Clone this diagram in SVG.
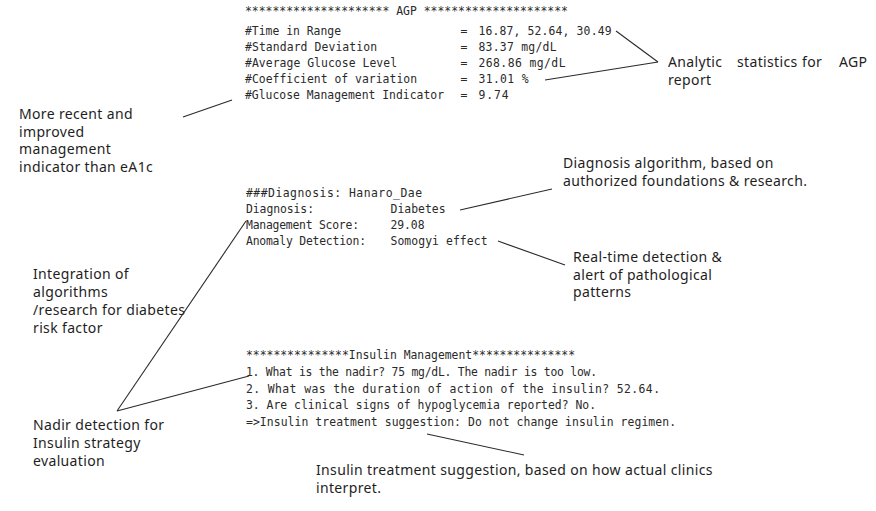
<svg xmlns="http://www.w3.org/2000/svg" width="876" height="511" viewBox="0 0 876 511">
<style>
.m{font-family:"DejaVu Sans Mono","Liberation Mono",monospace;font-size:11.4px;fill:#2a2a2a}
.s{font-family:"Noto Sans","Open Sans",sans-serif;font-size:14px;letter-spacing:0.35px;fill:#1e1e1e}
.c{stroke:#2a2a2a;stroke-width:1.1;fill:none}
</style>
<rect width="876" height="511" fill="#ffffff"/>
<g id="agp-report">
<text class="m" x="245" y="15" textLength="323" lengthAdjust="spacingAndGlyphs">********************* AGP *********************</text>
<text class="m" x="245" y="35" textLength="96">#Time in Range</text>
<text class="m" x="245" y="51" textLength="132">#Standard Deviation</text>
<text class="m" x="245" y="67" textLength="152">#Average Glucose Level</text>
<text class="m" x="245" y="83" textLength="172">#Coefficient of variation</text>
<text class="m" x="245" y="99" textLength="199">#Glucose Management Indicator</text>
<text class="m" x="464" y="35" text-anchor="middle">=</text>
<text class="m" x="464" y="51" text-anchor="middle">=</text>
<text class="m" x="464" y="67" text-anchor="middle">=</text>
<text class="m" x="464" y="83" text-anchor="middle">=</text>
<text class="m" x="464" y="99" text-anchor="middle">=</text>
<text class="m" x="478.5" y="35" textLength="133">16.87, 52.64, 30.49</text>
<text class="m" x="478.5" y="51" textLength="78">83.37 mg/dL</text>
<text class="m" x="478.5" y="67" textLength="87">268.86 mg/dL</text>
<text class="m" x="478.5" y="83" textLength="50">31.01 %</text>
<text class="m" x="478.5" y="99" textLength="30">9.74</text>
</g>
<g id="diagnosis">
<text class="m" x="246" y="197" textLength="176">###Diagnosis: Hanaro_Dae</text>
<text class="m" x="246" y="213" textLength="68">Diagnosis:</text>
<text class="m" x="246" y="229" textLength="113">Management Score:</text>
<text class="m" x="246" y="245" textLength="120">Anomaly Detection:</text>
<text class="m" x="390.5" y="213" textLength="55">Diabetes</text>
<text class="m" x="390.5" y="229" textLength="34">29.08</text>
<text class="m" x="390.5" y="245" textLength="97">Somogyi effect</text>
</g>
<g id="insulin-management">
<text class="m" x="246" y="359" textLength="329" lengthAdjust="spacingAndGlyphs">***************Insulin Management***************</text>
<text class="m" x="246" y="376" textLength="351">1. What is the nadir? 75 mg/dL. The nadir is too low.</text>
<text class="m" x="246" y="392.5" textLength="414">2. What was the duration of action of the insulin? 52.64.</text>
<text class="m" x="246" y="409" textLength="350">3. Are clinical signs of hypoglycemia reported? No.</text>
<text class="m" x="246" y="425.5" textLength="430">=&gt;Insulin treatment suggestion: Do not change insulin regimen.</text>
</g>
<g id="note-analytic">
<text class="s" y="67"><tspan x="668">Analytic</tspan><tspan x="737">statistics</tspan><tspan x="802">for</tspan><tspan x="839">AGP</tspan></text>
<text class="s" x="668" y="85">report</text>
</g>
<g id="note-gmi">
<text class="s" x="19" y="119">More recent and</text>
<text class="s" x="19" y="136.5">improved</text>
<text class="s" x="19" y="154">management</text>
<text class="s" x="19" y="171.5">indicator than eA1c</text>
</g>
<g id="note-diagnosis">
<text class="s" x="563" y="168">Diagnosis algorithm, based on</text>
<text class="s" x="563" y="186">authorized foundations &amp; research.</text>
</g>
<g id="note-realtime">
<text class="s" x="573" y="262">Real-time detection &amp;</text>
<text class="s" x="573" y="279.5">alert of pathological</text>
<text class="s" x="573" y="297">patterns</text>
</g>
<g id="note-integration">
<text class="s" x="33" y="279">Integration of</text>
<text class="s" x="33" y="297">algorithms</text>
<text class="s" x="33" y="315">/research for diabetes</text>
<text class="s" x="33" y="333">risk factor</text>
</g>
<g id="note-nadir">
<text class="s" x="33" y="430">Nadir detection for</text>
<text class="s" x="33" y="448">Insulin strategy</text>
<text class="s" x="33" y="466">evaluation</text>
</g>
<g id="note-insulin">
<text class="s" x="316" y="475">Insulin treatment suggestion, based on how actual clinics</text>
<text class="s" x="316" y="493">interpret.</text>
</g>
<g id="connectors">
<line class="c" x1="616" y1="31" x2="658" y2="62"/>
<line class="c" x1="545" y1="80" x2="658" y2="62"/>
<line class="c" x1="183" y1="117" x2="232" y2="100"/>
<line class="c" x1="460" y1="210" x2="552" y2="189"/>
<line class="c" x1="498" y1="241" x2="565" y2="265"/>
<line class="c" x1="117" y1="411" x2="246" y2="221"/>
<line class="c" x1="117" y1="411" x2="249" y2="376"/>
<line class="c" x1="427" y1="434" x2="524" y2="455"/>
</g>
</svg>
